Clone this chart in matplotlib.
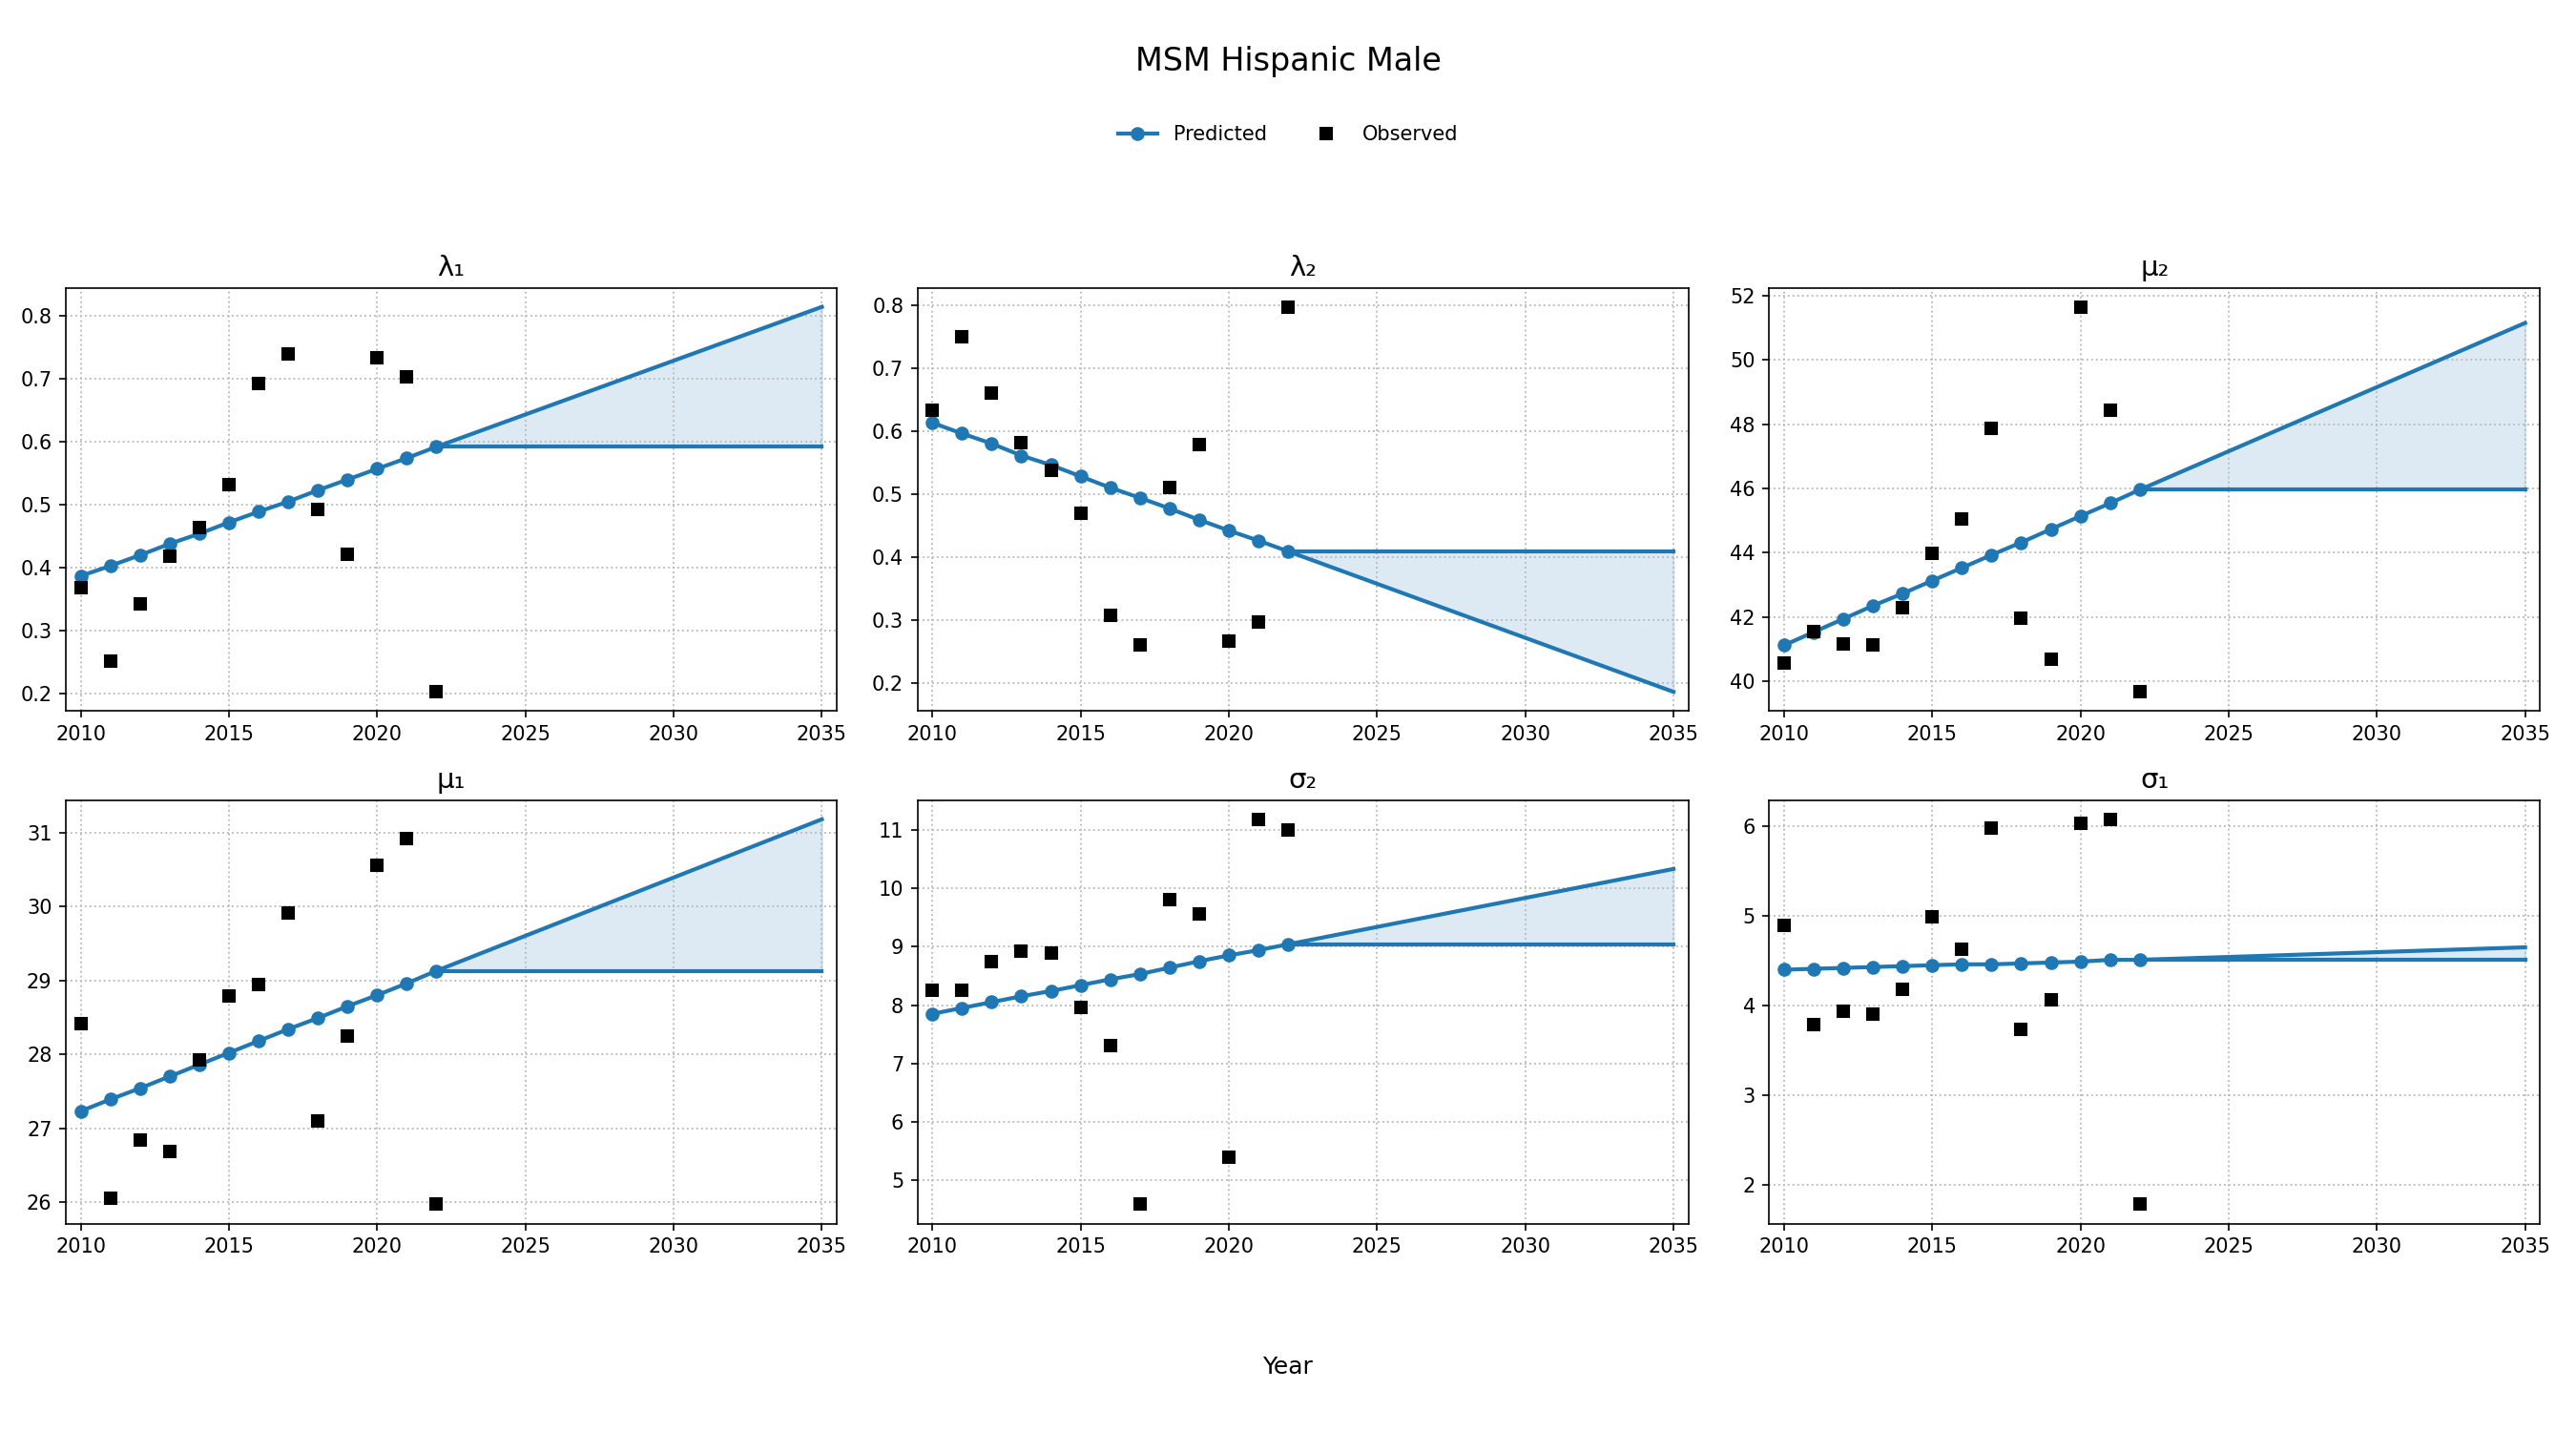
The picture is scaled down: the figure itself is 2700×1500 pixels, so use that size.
import matplotlib
matplotlib.use("Agg")
import matplotlib.pyplot as plt
import numpy as np

years = [2010, 2011, 2012, 2013, 2014, 2015, 2016, 2017, 2018, 2019, 2020, 2021, 2022]
proj_years = [2022, 2035]

titles = ["λ₁", "λ₂", "μ₂", "μ₁", "σ₂", "σ₁"]

pred_lambda1 = [0.387, 0.403, 0.420, 0.438, 0.454, 0.472, 0.489, 0.505, 0.523, 0.540, 0.557, 0.574, 0.592]
obs_lambda1 = [0.368, 0.252, 0.342, 0.419, 0.464, 0.532, 0.693, 0.739, 0.492, 0.421, 0.734, 0.703, 0.203]
end_lambda1 = 0.814

pred_lambda2 = [0.613, 0.596, 0.580, 0.561, 0.546, 0.528, 0.510, 0.494, 0.477, 0.459, 0.442, 0.426, 0.409]
obs_lambda2 = [0.633, 0.749, 0.660, 0.581, 0.537, 0.469, 0.308, 0.261, 0.510, 0.579, 0.266, 0.297, 0.797]
end_lambda2 = 0.186

pred_mu2 = [41.12, 41.53, 41.94, 42.35, 42.73, 43.13, 43.53, 43.93, 44.32, 44.73, 45.14, 45.54, 45.96]
obs_mu2 = [40.57, 41.55, 41.15, 41.13, 42.30, 43.97, 45.04, 47.86, 41.96, 40.69, 51.65, 48.42, 39.67]
end_mu2 = 51.15

pred_mu1 = [27.23, 27.39, 27.54, 27.70, 27.86, 28.02, 28.18, 28.34, 28.49, 28.65, 28.80, 28.96, 29.13]
obs_mu1 = [28.42, 26.05, 26.84, 26.68, 27.92, 28.79, 28.95, 29.91, 27.10, 28.25, 30.56, 30.92, 25.97]
end_mu1 = 31.18

pred_sigma2 = [7.85, 7.95, 8.05, 8.15, 8.24, 8.34, 8.44, 8.53, 8.64, 8.75, 8.85, 8.94, 9.04]
obs_sigma2 = [8.25, 8.26, 8.75, 8.92, 8.89, 7.96, 7.30, 4.59, 9.80, 9.56, 5.39, 11.18, 11.00]
end_sigma2 = 10.33

pred_sigma1 = [4.40, 4.41, 4.42, 4.43, 4.44, 4.45, 4.46, 4.46, 4.47, 4.48, 4.49, 4.51, 4.51]
obs_sigma1 = [4.90, 3.79, 3.94, 3.90, 4.18, 4.99, 4.63, 5.98, 3.73, 4.06, 6.04, 6.08, 1.78]
end_sigma1 = 4.65

panels = [
    (pred_lambda1, obs_lambda1, end_lambda1),
    (pred_lambda2, obs_lambda2, end_lambda2),
    (pred_mu2, obs_mu2, end_mu2),
    (pred_mu1, obs_mu1, end_mu1),
    (pred_sigma2, obs_sigma2, end_sigma2),
    (pred_sigma1, obs_sigma1, end_sigma1),
]

color = "#1f77b4"
fig, axes = plt.subplots(2, 3, figsize=(18, 10), dpi=150)
fig.subplots_adjust(left=0.0256, right=0.986, top=0.799, bottom=0.145, wspace=0.105, hspace=0.21)

for ax, title, (pred, obs, end) in zip(axes.flat, titles, panels):
    ax.plot(years, pred, "-o", color=color, lw=2, ms=6, label="Predicted")
    ax.plot(years, obs, "s", color="black", ms=6, linestyle="none", label="Observed")
    flat = [pred[-1], pred[-1]]
    trend = [pred[-1], end]
    ax.plot(proj_years, flat, color=color, lw=2)
    ax.plot(proj_years, trend, color=color, lw=2)
    ax.fill_between(proj_years, flat, trend, color=color, alpha=0.15)
    ax.set_title(title, fontsize=14)
    ax.grid(True, linestyle=":", color="#bbbbbb", linewidth=0.9)
    ax.margins(x=0.02)
    ax.set_xticks([2010, 2015, 2020, 2025, 2030, 2035])

handles, labels = axes.flat[0].get_legend_handles_labels()
fig.legend(handles, labels, loc="center", bbox_to_anchor=(0.5, 0.906), ncol=2, frameon=False, fontsize=10)
fig.suptitle("MSM Hispanic Male", fontsize=16, y=0.968)
fig.text(0.5, 0.045, "Year", ha="center", va="center", fontsize=12)

fig.savefig("out.png", dpi=150)
